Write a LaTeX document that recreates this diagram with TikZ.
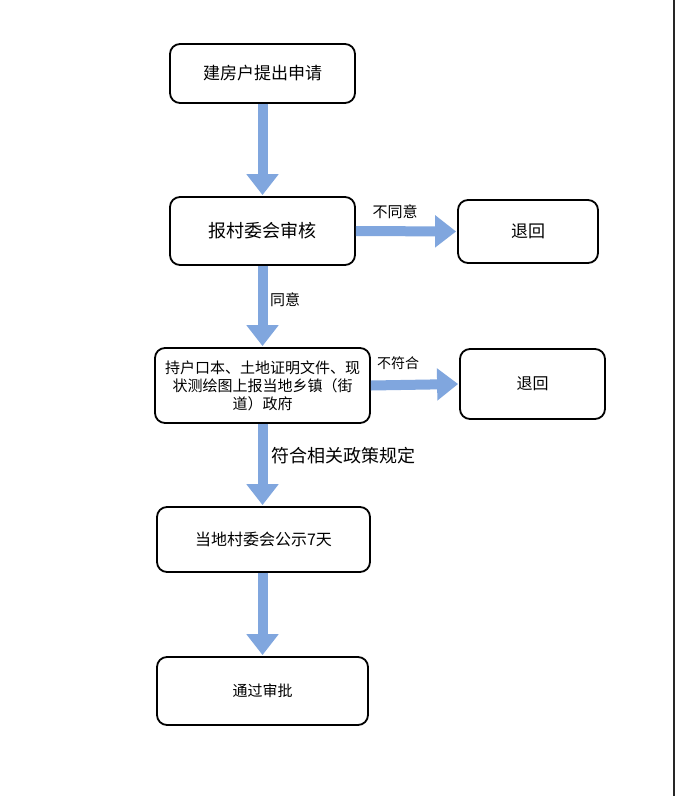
\documentclass[tikz,border=0pt]{standalone}
\usepackage{fontspec}
\newfontfamily\cjk{Noto Sans CJK SC}
\usetikzlibrary{arrows.meta}
\definecolor{flowblue}{RGB}{128,166,222}

\begin{document}
\begin{tikzpicture}[x=1pt,y=-1pt,
        box/.style={draw=black, line width=1.8pt, rounded corners=10pt, font=\cjk\fontsize{16}{19}\selectfont, align=center, inner sep=0pt},
        flow/.style={draw=flowblue, line width=10pt, -{Triangle[width=31pt,length=21pt]}, shorten >=1pt},
        lab/.style={font=\cjk\fontsize{15}{17}\selectfont, inner sep=1pt}]
        \useasboundingbox (0,0) rectangle (676,796);
        \fill[white] (0,0) rectangle (676,796);
        % right edge line
        \coordinate (e1) at (674,0);
        \coordinate (e2) at (674,796);
        \draw[line width=2pt, black!85] (e1) -- (e2);
        % boxes
        \node[box, minimum width=185pt, minimum height=59pt, font=\cjk\fontsize{17}{20}\selectfont] (b1) at (262.5,73.5) {建房户提出申请};
        \node[box, minimum width=185pt, minimum height=68pt, font=\cjk\fontsize{18}{21}\selectfont] (b2) at (262.5,231) {报村委会审核};
        \node[box, minimum width=140pt, minimum height=63pt, font=\cjk\fontsize{17}{20}\selectfont] (r1) at (528,231.5) {退回};
        \node[box, minimum width=215pt, minimum height=75pt, font=\cjk\fontsize{15}{18}\selectfont] (b3) at (262.5,385.5) {持户口本、土地证明文件、现\\状测绘图上报当地乡镇（街\\道）政府};
        \node[box, minimum width=145pt, minimum height=70pt] (r2) at (532.5,384) {退回};
        \node[box, minimum width=213pt, minimum height=65pt] (b4) at (263.5,539.5) {当地村委会公示7天};
        \node[box, minimum width=211pt, minimum height=68pt, font=\cjk\fontsize{15}{18}\selectfont] (b5) at (262.5,691) {通过审批};
        % arrows
        \draw[flow] (b1.south) -- (b2.north);
        \draw[flow] (b2.east) -- (r1.west);
        \draw[flow] (b2.south) -- (b3.north);
        \draw[flow] (b3.east) -- (r2.west);
        \draw[flow] (b3.south -| b2.south) -- (b4.north -| b2.south);
        \draw[flow] (b4.south -| b2.south) -- (b5.north -| b2.south);
        % labels
        \node[lab] (l1) at (395,212) {不同意};
        \node[lab] (l2) at (285,300) {同意};
        \node[lab, font=\cjk\fontsize{14}{16}\selectfont] (l3) at (398,363) {不符合};
        \node[lab, font=\cjk\fontsize{18}{21}\selectfont] (l4) at (343,456) {符合相关政策规定};
\end{tikzpicture}
\end{document}
